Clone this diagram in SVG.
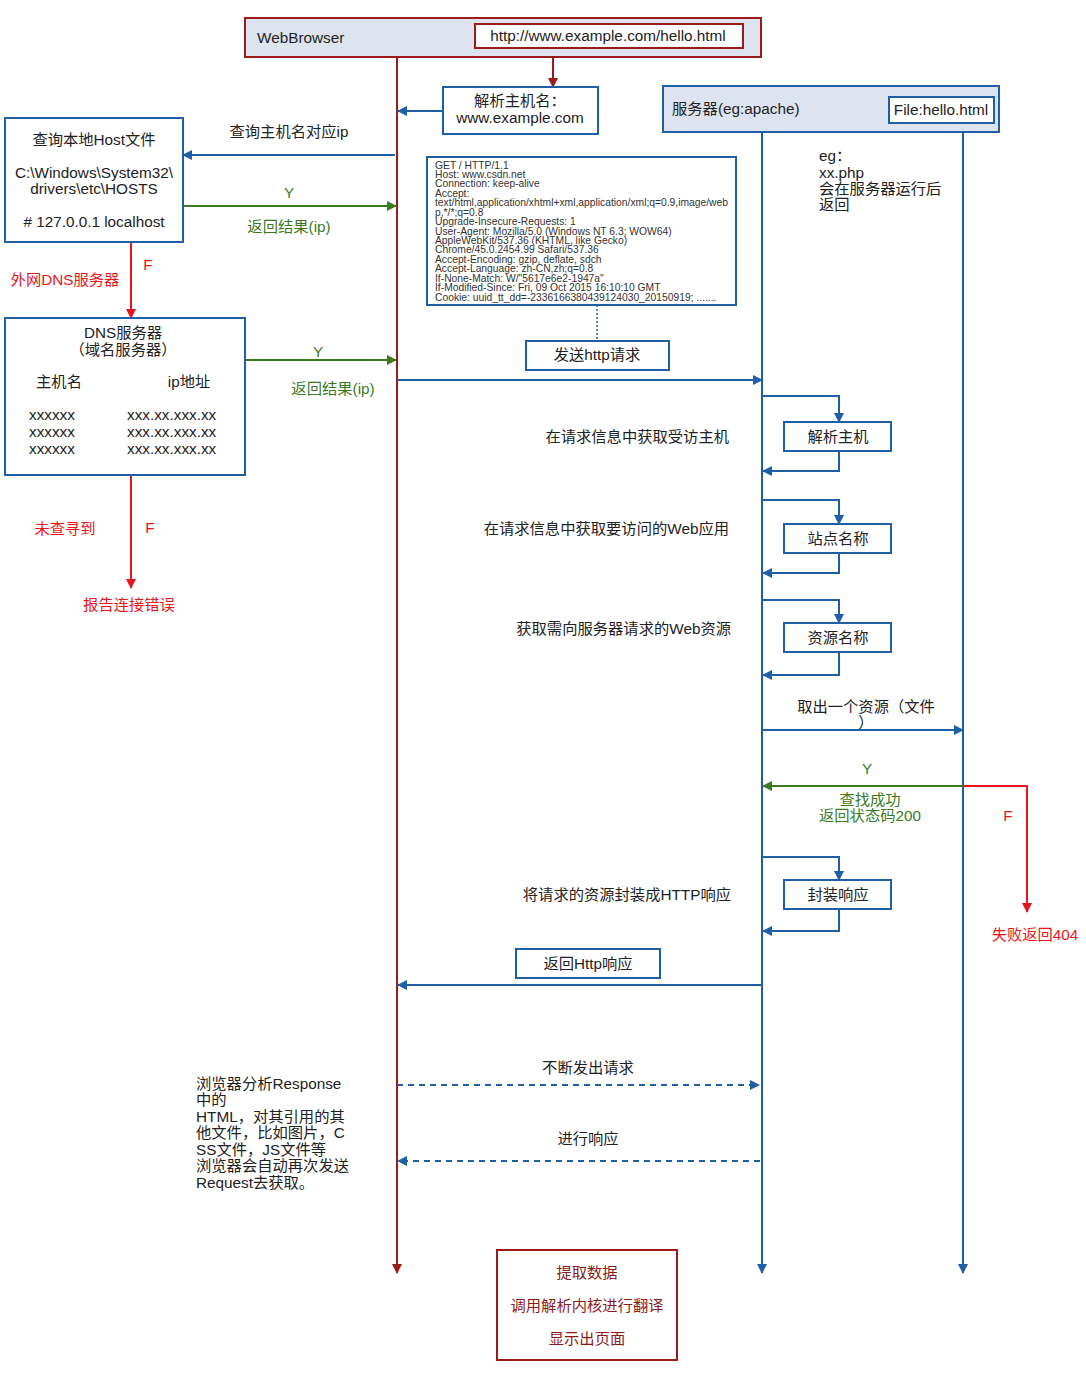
<svg xmlns="http://www.w3.org/2000/svg" width="1086" height="1376" viewBox="0 0 1086 1376">
<defs>
<marker id="ab" viewBox="0 0 10 10" refX="9" refY="5" markerWidth="5" markerHeight="5" orient="auto"><path d="M0,0 L10,5 L0,10 z" fill="#1f5fa6"/></marker>
<marker id="ar" viewBox="0 0 10 10" refX="9" refY="5" markerWidth="5" markerHeight="5" orient="auto"><path d="M0,0 L10,5 L0,10 z" fill="#9b1b1b"/></marker>
<marker id="ag" viewBox="0 0 10 10" refX="9" refY="5" markerWidth="5" markerHeight="5" orient="auto"><path d="M0,0 L10,5 L0,10 z" fill="#3c7a1f"/></marker>
<marker id="arr" viewBox="0 0 10 10" refX="9" refY="5" markerWidth="5" markerHeight="5" orient="auto"><path d="M0,0 L10,5 L0,10 z" fill="#e8161c"/></marker>
</defs>
<style>
text{font-family:"Liberation Sans","Noto Sans CJK SC",sans-serif;font-size:15.3px;fill:#222}
.c{text-anchor:middle}
.r{text-anchor:end}
.g{fill:#3c7a1f}
.red{fill:#e8161c}
.dr{fill:#8b1a1a}
.hdr{font-size:10.3px;fill:#333}
.bx{fill:#fff;stroke:#1f5fa6;stroke-width:2}
.bl{fill:none;stroke:#1f5fa6;stroke-width:2}
.rl{fill:none;stroke:#9b1b1b;stroke-width:2}
.gl{fill:none;stroke:#3c7a1f;stroke-width:2}
.rrl{fill:none;stroke:#e8161c;stroke-width:2}
</style>
<rect width="1086" height="1376" fill="#fff"/>

<g id="connectors">
<line x1="397" y1="57" x2="397" y2="1273" class="rl" marker-end="url(#ar)"/>
<line x1="762" y1="132" x2="762" y2="1273" class="bl" marker-end="url(#ab)"/>
<line x1="963" y1="123" x2="963" y2="1273" class="bl" marker-end="url(#ab)"/>
<line x1="553" y1="48" x2="553" y2="87" class="rl" marker-end="url(#ar)"/>
<line x1="443" y1="111" x2="398" y2="111" class="bl" marker-end="url(#ab)"/>
<line x1="395" y1="155" x2="183" y2="155" class="bl" marker-end="url(#ab)"/>
<line x1="183" y1="206" x2="396" y2="206" class="gl" marker-end="url(#ag)"/>
<line x1="131" y1="242" x2="131" y2="318" class="rrl" marker-end="url(#arr)"/>
<line x1="245" y1="360" x2="396" y2="360" class="gl" marker-end="url(#ag)"/>
<line x1="131" y1="475" x2="131" y2="588" class="rrl" marker-end="url(#arr)"/>
<line x1="597" y1="305" x2="597" y2="341" stroke="#1f5fa6" stroke-width="1.5" stroke-dasharray="2,2"/>
<line x1="398" y1="380" x2="762" y2="380" class="bl" marker-end="url(#ab)"/>
<polyline points="762,396 839,396 839,422" class="bl" marker-end="url(#ab)"/>
<polyline points="839,451 839,471 763,471" class="bl" marker-end="url(#ab)"/>
<polyline points="762,500 839,500 839,524" class="bl" marker-end="url(#ab)"/>
<polyline points="839,553 839,573 763,573" class="bl" marker-end="url(#ab)"/>
<polyline points="762,600 839,600 839,623" class="bl" marker-end="url(#ab)"/>
<polyline points="839,652 839,675 763,675" class="bl" marker-end="url(#ab)"/>
<line x1="762" y1="730" x2="963" y2="730" class="bl" marker-end="url(#ab)"/>
<line x1="963" y1="786" x2="763" y2="786" class="gl" marker-end="url(#ag)"/>
<polyline points="963,786 1027,786 1027,912" class="rrl" marker-end="url(#arr)"/>
<polyline points="762,857 839,857 839,880" class="bl" marker-end="url(#ab)"/>
<polyline points="839,909 839,931 763,931" class="bl" marker-end="url(#ab)"/>
<line x1="762" y1="985" x2="398" y2="985" class="bl" marker-end="url(#ab)"/>
<line x1="397" y1="1085" x2="759" y2="1085" class="bl" stroke-width="1.5" stroke-dasharray="6,5" marker-end="url(#ab)"/>
<line x1="760" y1="1161" x2="398" y2="1161" class="bl" stroke-width="1.5" stroke-dasharray="6,5" marker-end="url(#ab)"/>
</g>

<g id="webbrowser">
<rect x="245" y="18" width="516" height="39" fill="#dde4ef" stroke="#9b1b1b" stroke-width="2"/>
<text x="257" y="43">WebBrowser</text>
</g>
<g id="url">
<rect x="475" y="24" width="268" height="24" fill="#fff" stroke="#9b1b1b" stroke-width="2"/>
<text x="608" y="41" class="c">http://www.example.com/hello.html</text>
</g>
<g id="parse-host">
<rect x="443" y="87" width="155" height="47" class="bx"/>
<text x="520" y="106" class="c">解析主机名：</text>
<text x="520" y="123" class="c">www.example.com</text>
</g>
<g id="server">
<rect x="663" y="86" width="336" height="46" fill="#dde4ef" stroke="#1f5fa6" stroke-width="2"/>
<text x="672" y="114">服务器(eg:apache)</text>
</g>
<g id="file">
<rect x="889" y="97" width="105" height="26" class="bx"/>
<text x="941" y="115" class="c">File:hello.html</text>
</g>
<g id="eg-note">
<text x="819" y="161">eg：</text>
<text x="819" y="178">xx.php</text>
<text x="819" y="194">会在服务器运行后</text>
<text x="819" y="210">返回</text>
</g>
<g id="hostfile">
<rect x="5" y="118" width="178" height="124" class="bx"/>
<text x="94" y="145" class="c">查询本地Host文件</text>
<text x="94" y="178" class="c">C:\Windows\System32\</text>
<text x="94" y="194" class="c">drivers\etc\HOSTS</text>
<text x="94" y="227" class="c"># 127.0.0.1 localhost</text>
</g>
<g id="labels-host">
<text x="289" y="137" class="c">查询主机名对应ip</text>
<text x="289" y="198" class="c g">Y</text>
<text x="289" y="232" class="c g">返回结果(ip)</text>
<text x="148" y="270" class="c red">F</text>
<text x="65" y="285" class="c red">外网DNS服务器</text>
</g>
<g id="dns">
<rect x="5" y="318" width="240" height="157" class="bx"/>
<text x="123" y="338" class="c">DNS服务器</text>
<text x="123" y="355" class="c">（域名服务器）</text>
<text x="59" y="387" class="c">主机名</text>
<text x="189" y="387" class="c">ip地址</text>
<text x="29" y="420">xxxxxx</text>
<text x="29" y="437">xxxxxx</text>
<text x="29" y="454">xxxxxx</text>
<text x="127" y="420">xxx.xx.xxx.xx</text>
<text x="127" y="437">xxx.xx.xxx.xx</text>
<text x="127" y="454">xxx.xx.xxx.xx</text>
</g>
<g id="labels-dns">
<text x="318" y="357" class="c g">Y</text>
<text x="333" y="394" class="c g">返回结果(ip)</text>
<text x="65" y="534" class="c red">未查寻到</text>
<text x="150" y="533" class="c red">F</text>
<text x="129" y="610" class="c red">报告连接错误</text>
</g>
<g id="request-header">
<rect x="427" y="157" width="309" height="148" class="bx"/>
<text class="hdr" x="435" y="168.5">GET / HTTP/1.1</text>
<text class="hdr" x="435" y="177.9">Host: www.csdn.net</text>
<text class="hdr" x="435" y="187.4">Connection: keep-alive</text>
<text class="hdr" x="435" y="196.8">Accept:</text>
<text class="hdr" x="435" y="206.2" textLength="293" lengthAdjust="spacingAndGlyphs">text/html,application/xhtml+xml,application/xml;q=0.9,image/web</text>
<text class="hdr" x="435" y="215.7">p,*/*;q=0.8</text>
<text class="hdr" x="435" y="225.1">Upgrade-Insecure-Requests: 1</text>
<text class="hdr" x="435" y="234.5">User-Agent: Mozilla/5.0 (Windows NT 6.3; WOW64)</text>
<text class="hdr" x="435" y="244">AppleWebKit/537.36 (KHTML, like Gecko)</text>
<text class="hdr" x="435" y="253.4">Chrome/45.0.2454.99 Safari/537.36</text>
<text class="hdr" x="435" y="262.8">Accept-Encoding: gzip, deflate, sdch</text>
<text class="hdr" x="435" y="272.3">Accept-Language: zh-CN,zh;q=0.8</text>
<text class="hdr" x="435" y="281.7">If-None-Match: W/"5617e6e2-1947a"</text>
<text class="hdr" x="435" y="291.1">If-Modified-Since: Fri, 09 Oct 2015 16:10:10 GMT</text>
<text class="hdr" x="435" y="300.6">Cookie: uuid_tt_dd=-2336166380439124030_20150919; .......</text>
</g>
<g id="send-request">
<rect x="526" y="341" width="143" height="29" class="bx"/>
<text x="597" y="360" class="c">发送http请求</text>
</g>
<g id="parse-host2">
<rect x="784" y="422" width="107" height="29" class="bx"/>
<text x="838" y="442" class="c">解析主机</text>
</g>
<g id="site-name">
<rect x="784" y="524" width="107" height="29" class="bx"/>
<text x="838" y="544" class="c">站点名称</text>
</g>
<g id="resource-name">
<rect x="784" y="623" width="107" height="29" class="bx"/>
<text x="838" y="643" class="c">资源名称</text>
</g>
<g id="wrap-response">
<rect x="784" y="880" width="107" height="29" class="bx"/>
<text x="838" y="900" class="c">封装响应</text>
</g>
<g id="return-http">
<rect x="516" y="949" width="144" height="29" class="bx"/>
<text x="588" y="969" class="c">返回Http响应</text>
</g>
<g id="server-labels">
<text x="729" y="442" class="r">在请求信息中获取受访主机</text>
<text x="729" y="534" class="r">在请求信息中获取要访问的Web应用</text>
<text x="731" y="634" class="r">获取需向服务器请求的Web资源</text>
<text x="866" y="712" class="c">取出一个资源（文件</text>
<text x="866" y="728" class="c">）</text>
<text x="867" y="774" class="c g">Y</text>
<text x="870" y="805" class="c g">查找成功</text>
<text x="870" y="821" class="c g">返回状态码200</text>
<text x="1008" y="821" class="c red">F</text>
<text x="1035" y="940" class="c red">失败返回404</text>
<text x="731" y="900" class="r">将请求的资源封装成HTTP响应</text>
<text x="588" y="1073" class="c">不断发出请求</text>
<text x="588" y="1144" class="c">进行响应</text>
</g>
<g id="browser-note">
<text x="196" y="1089">浏览器分析Response</text>
<text x="196" y="1105">中的</text>
<text x="196" y="1122">HTML，对其引用的其</text>
<text x="196" y="1138">他文件，比如图片，C</text>
<text x="196" y="1155">SS文件，JS文件等</text>
<text x="196" y="1171">浏览器会自动再次发送</text>
<text x="196" y="1188">Request去获取。</text>
</g>
<g id="render">
<rect x="497" y="1250" width="180" height="110" fill="#fff" stroke="#9b1b1b" stroke-width="2"/>
<text x="587" y="1278" class="c dr">提取数据</text>
<text x="587" y="1311" class="c dr">调用解析内核进行翻译</text>
<text x="587" y="1344" class="c dr">显示出页面</text>
</g>
</svg>
